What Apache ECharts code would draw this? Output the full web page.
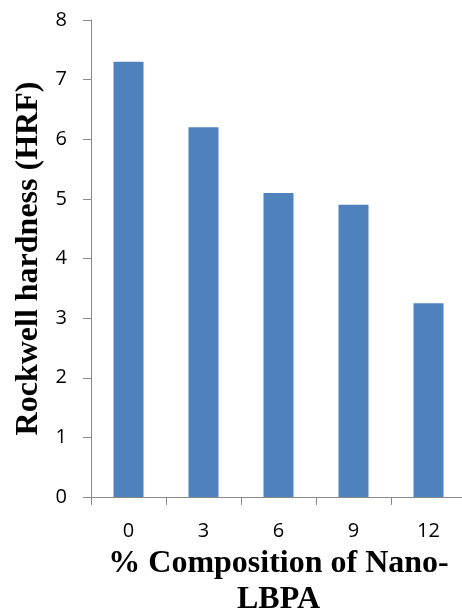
<!DOCTYPE html>
<html>
<head>
<meta charset="utf-8">
<script src="https://cdn.jsdelivr.net/npm/echarts@6/dist/echarts.min.js"></script>
<style>
html,body{margin:0;padding:0;background:#fff;}
#chart{width:462px;height:610px;}
</style>
</head>
<body>
<div id="chart"></div>
<script>
const categories = ['0', '3', '6', '9', '12'];
const hardness = [7.3, 6.2, 5.1, 4.9, 3.25];
const yTicks = [0, 1, 2, 3, 4, 5, 6, 7, 8];
const xTitle = '% Composition of Nano-\nLBPA';
const yTitle = 'Rockwell hardness (HRF)';

const chart = echarts.init(document.getElementById('chart'), null, {renderer: 'canvas'});
const axisGray = '#898989';
chart.setOption({
  animation: false,
  backgroundColor: '#fff',
  grid: {left: 91, top: 20, width: 375, height: 477, containLabel: false, outerBoundsMode: 'none'},
  xAxis: {
    type: 'category',
    data: categories,
    boundaryGap: true,
    axisLine: {show: true, lineStyle: {color: axisGray, width: 1}},
    axisTick: {show: true, length: 8, alignWithLabel: false, lineStyle: {color: axisGray}},
    axisLabel: {color: '#000', fontFamily: 'Open Sans', fontSize: 20, margin: 24},
    name: xTitle,
    nameLocation: 'middle',
    nameGap: 40,
    nameTextStyle: {color: '#000', fontFamily: 'Liberation Serif', fontWeight: 'bold', fontSize: 32, lineHeight: 36}
  },
  yAxis: {
    type: 'value',
    min: yTicks[0],
    max: yTicks[yTicks.length - 1],
    interval: 1,
    splitLine: {show: false},
    axisLine: {show: true, lineStyle: {color: axisGray, width: 1}},
    axisTick: {show: true, length: 8, lineStyle: {color: axisGray}},
    axisLabel: {color: '#000', fontFamily: 'Open Sans', fontSize: 20, margin: 24},
    name: yTitle,
    nameLocation: 'middle',
    nameGap: 46,
    nameTextStyle: {color: '#000', fontFamily: 'Liberation Serif', fontWeight: 'bold', fontSize: 32}
  },
  series: [{
    type: 'bar',
    data: hardness,
    barWidth: 30,
    itemStyle: {color: '#4F81BD'}
  }]
});
</script>
</body>
</html>
